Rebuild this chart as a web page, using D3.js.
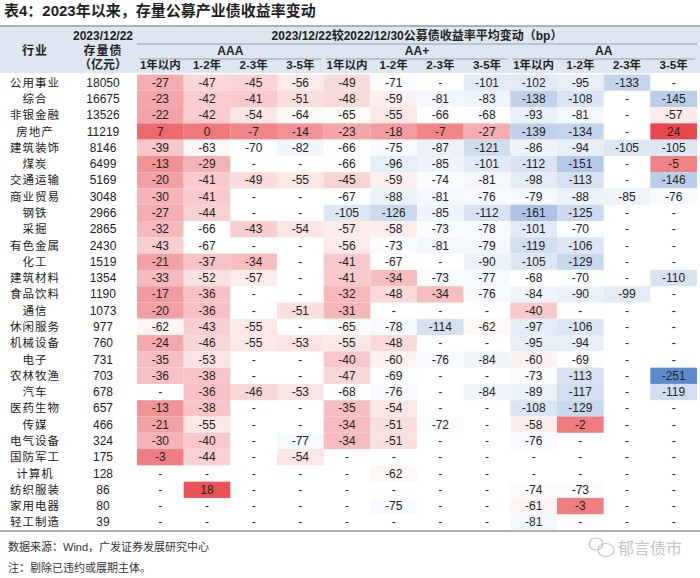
<!DOCTYPE html>
<html>
<head>
<meta charset="utf-8">
<script src="https://cdn.jsdelivr.net/npm/d3@7"></script>
<style>
  body { margin: 0; background: #fff; }
  text { font-family: "Liberation Sans", Arial, "Noto Sans CJK SC", sans-serif; }
</style>
</head>
<body>
<div id="chart"></div>
<script>

// industries and outstanding stock (亿元)
var industries = ["公用事业", "综合", "非银金融", "房地产", "建筑装饰", "煤炭", "交通运输", "商业贸易", "钢铁", "采掘",
  "有色金属", "化工", "建筑材料", "食品饮料", "通信", "休闲服务", "机械设备", "电子", "农林牧渔", "汽车",
  "医药生物", "传媒", "电气设备", "国防军工", "计算机", "纺织服装", "家用电器", "轻工制造"];
var stock = [18050, 16675, 13526, 11219, 8146, 6499, 5169, 3048, 2966, 2865,
  2430, 1519, 1354, 1190, 1073, 977, 760, 731, 703, 678,
  657, 466, 324, 175, 128, 86, 80, 39];

var ratings = ["AAA", "AA+", "AA"];
var terms = ["1年以内", "1-2年", "2-3年", "3-5年"];

// yield change in bp, null = "-"
var aaa = [
  [-27, -47, -45, -56], [-23, -42, -41, -51], [-22, -42, -54, -64], [7, 0, -7, -14],
  [-39, -63, -70, -82], [-13, -29, null, null], [-20, -41, -49, -55], [-30, -41, null, null],
  [-27, -44, null, null], [-32, -66, -43, -54], [-43, -67, null, null], [-21, -37, -34, null],
  [-33, -52, -57, null], [-17, -36, null, null], [-20, -36, null, -51], [-62, -43, -55, null],
  [-24, -46, -55, -53], [-35, -53, null, null], [-36, -38, null, null], [null, -36, -46, -53],
  [-13, -38, null, null], [-21, -55, null, null], [-30, -40, null, -77], [-3, -44, null, -54],
  [null, null, null, null], [null, 18, null, null], [null, null, null, null], [null, null, null, null]
];
var aaPlus = [
  [-49, -71, null, -101], [-48, -59, -81, -83], [-65, -55, -66, -68], [-23, -18, -7, -27],
  [-66, -75, -87, -121], [-66, -96, -85, -101], [-45, -59, -74, -81], [-67, -88, -81, -76],
  [-105, -126, -85, -112], [-57, -58, -73, -78], [-56, -73, -81, -79], [-41, -67, null, -90],
  [-41, -34, -73, -77], [-32, -48, -34, -76], [-31, null, null, null], [-65, -78, -114, -62],
  [-55, -48, null, null], [-40, -60, -76, -84], [-47, -69, null, null], [-68, -76, null, -84],
  [-35, -54, null, null], [-34, -51, -72, null], [-34, -51, null, null], [null, null, null, null],
  [null, -62, null, null], [null, null, null, null], [null, -75, null, null], [null, null, null, null]
];
var aa = [
  [-102, -95, -133, null], [-138, -108, null, -145], [-93, -81, null, -57], [-139, -134, null, 24],
  [-86, -94, -105, -105], [-112, -151, null, -5], [-98, -113, null, -146], [-79, -88, -85, -76],
  [-161, -125, null, null], [-101, -70, null, null], [-119, -106, null, null], [-105, -129, null, null],
  [-68, -70, null, -110], [-84, -90, -99, null], [-40, null, null, null], [-97, -106, null, null],
  [-95, -94, null, null], [-60, -69, null, null], [-73, -113, null, -251], [-89, -117, null, -119],
  [-108, -129, null, null], [-58, -2, null, null], [-76, null, null, null], [null, null, null, null],
  [null, null, null, null], [-74, -73, null, null], [-61, -3, null, null], [-81, null, null, null]
];

var width = 700, height = 578;

var svg = d3.select("#chart")
  .append("svg")
  .attr("width", width)
  .attr("height", height);

// flatten the three grades into cells
var grades = [aaa, aaPlus, aa];
var colKeys = [];
ratings.forEach(function (r) {
  terms.forEach(function (t) { colKeys.push(r + "|" + t); });
});
var cells = [];
industries.forEach(function (ind, i) {
  grades.forEach(function (g, gi) {
    g[i].forEach(function (v, ti) {
      cells.push({ row: ind, col: ratings[gi] + "|" + terms[ti], value: v });
    });
  });
});

var x = d3.scaleBand().domain(colKeys).range([137, 697]);
var y = d3.scaleBand().domain(industries).range([74.5, 530.5]);

var allValues = cells.filter(function (d) { return d.value !== null; }).map(function (d) { return d.value; });
var color = d3.scaleLinear()
  .domain([d3.min(allValues), -67, d3.max(allValues)])
  .range(["#5b8bcc", "#ffffff", "#e8474b"])
  .clamp(true);

// title
svg.append("text")
  .attr("x", 4)
  .attr("y", 16)
  .style("font-size", "15px")
  .style("font-weight", "bold")
  .attr("fill", "#1f1f1f")
  .text("表4：2023年以来，存量公募产业债收益率变动");

// header background
svg.append("rect")
  .attr("x", 0)
  .attr("y", 26)
  .attr("width", 700)
  .attr("height", 47)
  .attr("fill", "#dee7f1");

svg.append("line")
  .attr("x1", 0).attr("x2", 700)
  .attr("y1", 26).attr("y2", 26)
  .attr("stroke", "#9a9a9a")
  .attr("stroke-width", 1.5);

var head = svg.append("g")
  .style("font-weight", "bold")
  .attr("fill", "#222")
  .attr("text-anchor", "middle");

head.append("text").attr("x", 35).attr("y", 55).style("font-size", "12px")
  .style("letter-spacing", "1px").text("行业");
head.append("text").attr("x", 103).attr("y", 40).style("font-size", "12px").text("2023/12/22");
head.append("text").attr("x", 103).attr("y", 55).style("font-size", "12px")
  .style("letter-spacing", "1px").text("存量债");
head.append("text").attr("x", 103).attr("y", 69).style("font-size", "12px").text("（亿元）");

head.append("text").attr("x", (137 + 697) / 2).attr("y", 40).style("font-size", "12px")
  .text("2023/12/22较2022/12/30公募债收益率平均变动（bp）");

svg.append("line")
  .attr("x1", 137).attr("x2", 697)
  .attr("y1", 44).attr("y2", 44)
  .attr("stroke", "#7f8fa3")
  .attr("stroke-width", 0.8);

ratings.forEach(function (r) {
  var x0 = x(r + "|" + terms[0]);
  var x1 = x(r + "|" + terms[3]) + x.bandwidth();
  head.append("text").attr("x", (x0 + x1) / 2).attr("y", 55).style("font-size", "12px").text(r);
  svg.append("line")
    .attr("x1", x0 + 2).attr("x2", x1 - 2)
    .attr("y1", 59).attr("y2", 59)
    .attr("stroke", "#7f8fa3")
    .attr("stroke-width", 0.8);
});

head.selectAll(".term")
  .data(colKeys)
  .enter()
  .append("text")
  .attr("class", "term")
  .attr("x", function (d) { return x(d) + x.bandwidth() / 2; })
  .attr("y", 69)
  .style("font-size", "11.5px")
  .text(function (d) { return d.split("|")[1]; });

// heat cells
svg.selectAll(".cell")
  .data(cells.filter(function (d) { return d.value !== null; }))
  .enter()
  .append("rect")
  .attr("class", "cell")
  .attr("x", function (d) { return x(d.col); })
  .attr("y", function (d) { return y(d.row); })
  .attr("width", x.bandwidth())
  .attr("height", y.bandwidth())
  .attr("fill", function (d) { return color(d.value); });

svg.selectAll(".val")
  .data(cells)
  .enter()
  .append("text")
  .attr("class", "val")
  .attr("x", function (d) { return x(d.col) + x.bandwidth() / 2; })
  .attr("y", function (d) { return y(d.row) + y.bandwidth() / 2 + 4; })
  .attr("text-anchor", "middle")
  .style("font-size", "12px")
  .attr("fill", "#222")
  .text(function (d) { return d.value === null ? "-" : d.value; });

// row labels and stock column
svg.selectAll(".ind")
  .data(industries)
  .enter()
  .append("text")
  .attr("class", "ind")
  .attr("x", 35)
  .attr("y", function (d) { return y(d) + y.bandwidth() / 2 + 4; })
  .attr("text-anchor", "middle")
  .style("font-size", "11.5px")
  .style("letter-spacing", "1px")
  .attr("fill", "#222")
  .text(function (d) { return d; });

svg.selectAll(".stock")
  .data(industries)
  .enter()
  .append("text")
  .attr("class", "stock")
  .attr("x", 103)
  .attr("y", function (d) { return y(d) + y.bandwidth() / 2 + 4; })
  .attr("text-anchor", "middle")
  .style("font-size", "12px")
  .attr("fill", "#222")
  .text(function (d, i) { return stock[i]; });

svg.append("line")
  .attr("x1", 0).attr("x2", 700)
  .attr("y1", 531).attr("y2", 531)
  .attr("stroke", "#9a9a9a")
  .attr("stroke-width", 1.5);

// notes
svg.append("text")
  .attr("x", 8).attr("y", 551)
  .style("font-size", "11px")
  .attr("fill", "#333")
  .text("数据来源：Wind，广发证券发展研究中心");
svg.append("text")
  .attr("x", 8).attr("y", 572)
  .style("font-size", "11px")
  .attr("fill", "#333")
  .text("注：剔除已违约或展期主体。");

// watermark
var wm = svg.append("g").attr("fill", "none").attr("stroke", "#c4c4c4").attr("stroke-width", 1.2);
wm.append("ellipse").attr("cx", 596).attr("cy", 544).attr("rx", 7).attr("ry", 6);
wm.append("ellipse").attr("cx", 606).attr("cy", 550).attr("rx", 8).attr("ry", 6.5);
svg.append("text")
  .attr("x", 618).attr("y", 554)
  .style("font-size", "16px")
  .attr("fill", "#c4c4c4")
  .text("郁言债市");

</script>
</body>
</html>
